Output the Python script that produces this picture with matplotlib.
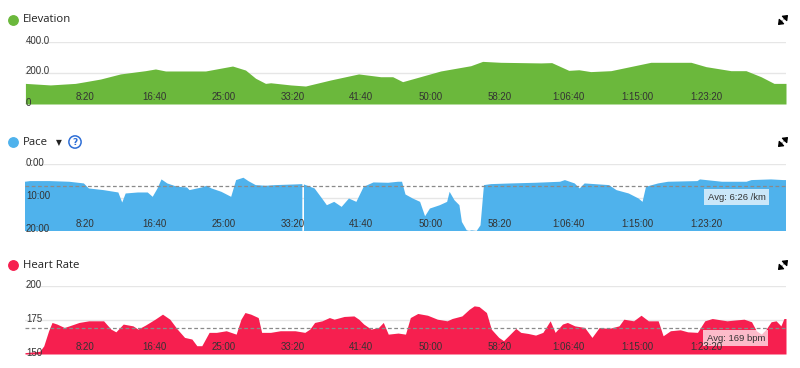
import numpy as np
import matplotlib
matplotlib.use("Agg")
import matplotlib.pyplot as plt
from matplotlib.lines import Line2D
from matplotlib.patches import FancyArrowPatch
from matplotlib.transforms import blended_transform_factory, ScaledTranslation

# elevation (m) vs time (s)
elev_t = [65, 246, 427, 500, 609, 754, 935, 1008, 1081, 1262, 1371, 1567, 1661, 1734,
          1806, 1843, 1988, 2096, 2278, 2481, 2641, 2728, 2800, 3076, 3294, 3380, 3511,
          3802, 3881, 4005, 4078, 4164, 4310, 4600, 4891, 5000, 5181, 5290, 5399, 5493, 5580]
elev = [133, 123, 133, 144, 161, 194, 215, 226, 213, 213, 213, 245, 219, 166,
        133, 137, 123, 116, 155, 194, 176, 176, 144, 213, 247, 275, 269,
        265, 267, 217, 221, 209, 215, 269, 269, 241, 215, 215, 176, 133, 133]

# pace (s per km) vs time (s); nan = gap in recording
pace_t = [62, 98, 240, 383, 489, 525, 632, 739, 767, 792, 881, 952, 988, 1023, 1052,
          1094, 1166, 1237, 1255, 1344, 1379, 1415, 1486, 1557, 1593, 1646, 1682, 1735,
          1806, 1877, 2020, 2073, 2078, 2085, 2162, 2216, 2251, 2304, 2358, 2411, 2465,
          2518, 2589, 2696, 2767, 2796, 2821, 2874, 2927, 2963, 2998, 3070, 3123, 3141,
          3176, 3212, 3230, 3265, 3283, 3301, 3337, 3365, 3390, 3443, 3586, 3764, 3942,
          3977, 4048, 4084, 4120, 4297, 4351, 4440, 4511, 4540, 4565, 4653, 4725, 4938,
          4956, 5116, 5294, 5330, 5472, 5561, 5580]
pace = [318, 306, 306, 318, 348, 438, 468, 510, 690, 528, 510, 510, 588, 438, 276,
        348, 408, 420, 468, 420, 390, 438, 498, 588, 288, 246, 306, 378,
        390, 378, 366, 360, np.nan, 366, 438, 618, 738, 678, 768, 618, 678,
        408, 330, 336, 318, 318, 546, 618, 678, 936, 798, 738, 678, 498,
        648, 738, 1038, 1188, 1200, 1188, 1200, 1098, 378, 360, 348, 336, 318,
        288, 348, 438, 348, 378, 468, 528, 618, 678, 408, 348, 318, 306,
        276, 318, 318, 288, 276, 288, 288]
pace_avg = 386

# heart rate (bpm) vs time (s)
hr_t = [62, 169, 198, 233, 258, 294, 347, 383, 454, 525, 632, 685, 721, 774, 845, 881,
        934, 1005, 1059, 1112, 1166, 1219, 1272, 1308, 1344, 1397, 1450, 1521, 1593,
        1628, 1657, 1699, 1753, 1778, 1842, 1913, 2020, 2091, 2127, 2162, 2216, 2269,
        2304, 2376, 2447, 2482, 2518, 2571, 2625, 2660, 2696, 2767, 2821, 2856, 2910,
        2981, 3052, 3123, 3159, 3230, 3283, 3319, 3354, 3408, 3443, 3497, 3532, 3568,
        3621, 3657, 3710, 3764, 3817, 3870, 3906, 3959, 3995, 4048, 4120, 4173, 4226,
        4297, 4369, 4404, 4475, 4529, 4582, 4653, 4689, 4742, 4813, 4867, 4938, 4991,
        5045, 5152, 5223, 5276, 5330, 5365, 5401, 5436, 5472, 5508, 5543, 5565, 5580]
hr = [151, 152, 156, 167, 173.2, 172.0, 169.5, 170.7, 173.2, 174.4, 174.4, 168.3, 166.3,
      172.0, 170.7, 168.3, 171.2, 175.6, 179.3, 175.6, 168.3, 162.2, 161.0, 156.1, 156.1,
      165.9, 165.9, 167.1, 164.6, 175.6, 180.5, 179.3, 176.8, 165.9, 165.9, 167.1, 167.1,
      165.9, 168.3, 173.2, 174.4, 176.8, 175.6, 177.6, 178.0, 175.6, 172.0, 168.3, 169.5,
      173.2, 164.6, 165.4, 164.6, 176.8, 179.8, 178.5, 175.6, 174.4, 176.1, 178.0, 182.9,
      185.4, 184.9, 180.5, 168.3, 162.2, 159.8, 163.4, 168.8, 165.9, 165.1, 163.9, 165.9,
      174.4, 165.9, 172.0, 173.2, 170.7, 169.5, 162.2, 169.5, 168.8, 170.7, 175.6, 174.4,
      178.5, 174.4, 174.4, 163.4, 167.1, 167.8, 166.3, 165.9, 174.4, 176.1, 174.4, 175.1,
      175.6, 173.7, 167.1, 164.6, 168.3, 173.7, 174.4, 170.7, 176.1, 176.1]
hr_avg = 169

x_ticks = [500, 1000, 1500, 2000, 2500, 3000, 3500, 4000, 4500, 5000]
x_labels = ["8:20", "16:40", "25:00", "33:20", "41:40", "50:00", "58:20",
            "1:06:40", "1:15:00", "1:23:20"]

GREEN = "#6bb83c"
BLUE = "#4fb2ec"
RED = "#f61f4f"
TXT = "#333333"
TICKFONT = "Liberation Sans"

W, H = 800, 368
fig = plt.figure(figsize=(W / 100, H / 100), dpi=100)


def rect(top, bottom, left=25, right=786):
    return [left / W, 1 - bottom / H, (right - left) / W, (bottom - top) / H]


def fx(px):
    return px / W


def fy(py):
    return 1 - py / H


def setup(ax, ylim, yticks, ylabels):
    ax.set_xlim(62, 5580)
    ax.set_ylim(*ylim)
    for s in ax.spines.values():
        s.set_visible(False)
    ax.set_xticks([])
    ax.set_yticks([])
    for v in yticks:
        ax.axhline(v, color="#e6e6e6", lw=1, zorder=0)
    ax.axhline(ylim[0], color="#dddddd", lw=1, zorder=0)
    ty = blended_transform_factory(ax.transAxes, ax.transData) + \
        ScaledTranslation(1 / 100, 1.5 / 100, fig.dpi_scale_trans)
    for v, lab in zip(yticks, ylabels):
        ax.text(0, v, lab, transform=ty, ha="left", va="center", fontsize=7,
                color=TXT, family=TICKFONT, zorder=5, clip_on=False)
    tx = blended_transform_factory(ax.transData, ax.transAxes) + \
        ScaledTranslation(0, 7 / 100, fig.dpi_scale_trans)
    for v, lab in zip(x_ticks, x_labels):
        ax.text(v, 0, lab, transform=tx, ha="center", va="center", fontsize=7,
                color=TXT, family=TICKFONT, zorder=5)


def header(y, label, color):
    fig.add_artist(Line2D([fx(13)], [fy(y)], marker="o", markersize=6.8,
                          color=color, transform=fig.transFigure))
    fig.text(fx(23), fy(y), label, fontsize=8.2, color="#222222",
             family="Open Sans", ha="left", va="center")
    # expand icon: two small arrows pointing outwards
    cx, cy = 783, y
    for dx, dy in [(1, -1), (-1, 1)]:
        fig.add_artist(FancyArrowPatch((fx(cx + dx * 1.0), fy(cy + dy * 1.0)),
                                       (fx(cx + dx * 5), fy(cy + dy * 5)),
                                       arrowstyle="-|>,head_length=0.5,head_width=0.4",
                                       mutation_scale=5.5, lw=0.9, color="black",
                                       shrinkA=0, shrinkB=0, transform=fig.transFigure))


# elevation
ax_e = fig.add_axes(rect(42, 104))
ax_e.fill_between(elev_t, 0, elev, color=GREEN, lw=0, zorder=1)
setup(ax_e, (0, 400), [0, 200, 400], ["0", "200.0", "400.0"])
header(20, "Elevation", GREEN)

# pace
ax_p = fig.add_axes(rect(164, 231))
ax_p.fill_between(pace_t, pace, 1200, color=BLUE, lw=0, zorder=1)
setup(ax_p, (1200, 0), [0, 600, 1200], ["0:00", "10:00", "20:00"])
ax_p.axhline(pace_avg, color="#8a8a8a", lw=0.9, ls=(0, (3, 2)), zorder=3)
ax_p.text(0.935, 0.505, "Avg: 6:26 /km", transform=ax_p.transAxes, ha="center",
          va="center", fontsize=6.8, color=TXT, family=TICKFONT, zorder=4,
          bbox=dict(boxstyle="square,pad=0.35", fc="white", ec="none", alpha=0.7))
header(142, "Pace", BLUE)
fig.text(fx(56), fy(143), "\u25BC", fontsize=5.5, color="#222222",
         ha="left", va="center", family="DejaVu Sans")
fig.text(fx(75), fy(142), "?", fontsize=6.5, color="#2f6fd6", ha="center",
         va="center", family="DejaVu Sans", fontweight="bold",
         bbox=dict(boxstyle="circle,pad=0.18", fc="white", ec="#2f6fd6", lw=1.1))

# heart rate
ax_h = fig.add_axes(rect(286, 354))
ax_h.fill_between(hr_t, 150, hr, color=RED, lw=0, zorder=1)
setup(ax_h, (150, 200), [150, 175, 200], ["150", "175", "200"])
ax_h.axhline(hr_avg, color="#8a8a8a", lw=0.9, ls=(0, (3, 2)), zorder=3)
ax_h.text(0.934, 0.235, "Avg: 169 bpm", transform=ax_h.transAxes, ha="center",
          va="center", fontsize=6.8, color=TXT, family=TICKFONT, zorder=4,
          bbox=dict(boxstyle="square,pad=0.35", fc="white", ec="none", alpha=0.7))
header(265, "Heart Rate", RED)

fig.savefig("out.png", dpi=100)
